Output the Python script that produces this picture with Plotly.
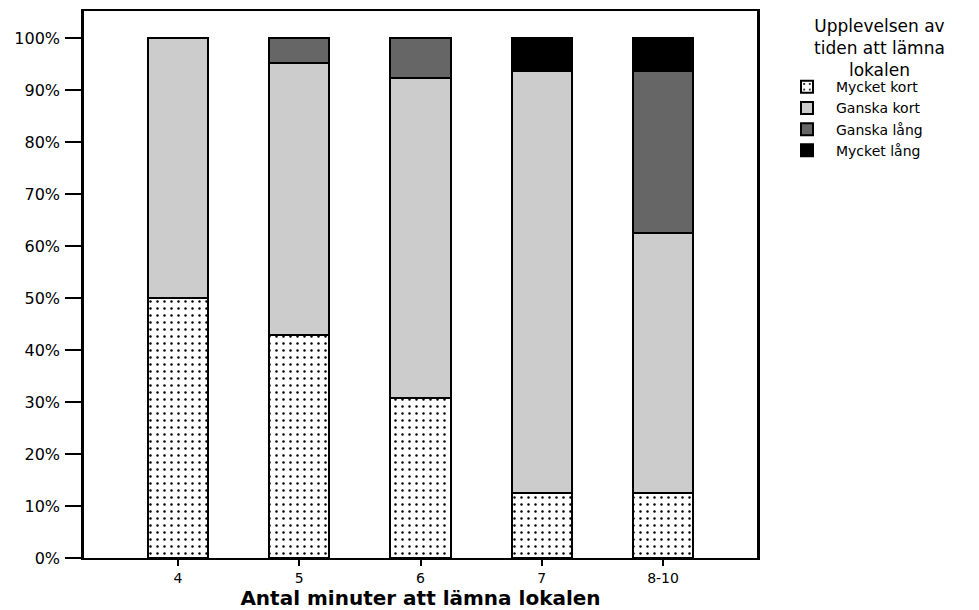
import plotly.graph_objects as go

categories = ["4", "5", "6", "7", "8-10"]
mycket_kort = [50.0, 42.86, 30.77, 12.5, 12.5]
ganska_kort = [50.0, 52.38, 61.54, 81.25, 50.0]
ganska_lang = [0.0, 4.76, 7.69, 0.0, 31.25]
mycket_lang = [0.0, 0.0, 0.0, 6.25, 6.25]
series_names = ["Mycket kort", "Ganska kort", "Ganska lång", "Mycket lång"]
y_ticks = list(range(0, 101, 10))
y_tick_labels = [f"{v}%" for v in y_ticks]

FONT = "DejaVu Sans, Liberation Sans, Arial, sans-serif"

fig = go.Figure()
fig.add_trace(go.Bar(
    x=categories, y=mycket_kort, name=series_names[0],
    marker=dict(color="white",
                pattern=dict(shape=".", fgcolor="black", bgcolor="white", size=7, solidity=0.1),
                line=dict(color="black", width=2)),
))
fig.add_trace(go.Bar(
    x=categories, y=ganska_kort, name=series_names[1],
    marker=dict(color="#cccccc", line=dict(color="black", width=2)),
))
fig.add_trace(go.Bar(
    x=categories, y=ganska_lang, name=series_names[2],
    marker=dict(color="#666666", line=dict(color="black", width=2)),
))
fig.add_trace(go.Bar(
    x=categories, y=mycket_lang, name=series_names[3],
    marker=dict(color="black", line=dict(color="black", width=2)),
))

fig.update_layout(
    template="none",
    barmode="stack",
    bargap=0.505,
    width=971, height=602,
    margin=dict(l=76, r=222, t=3, b=52, autoexpand=False),
    plot_bgcolor="white", paper_bgcolor="white",
    font=dict(family=FONT, color="black", size=14),
    showlegend=True,
    legend=dict(
        traceorder="normal",
        x=1.0312, xanchor="left", y=0.890, yanchor="top",
        font=dict(size=14, family=FONT),
        itemwidth=48,
        tracegroupgap=0,
        bgcolor="rgba(0,0,0,0)",
    ),
    annotations=[dict(
        text="Upplevelsen av<br>tiden att lämna<br>lokalen",
        xref="paper", yref="paper",
        x=1.1813, y=0.9945, xanchor="center", yanchor="top",
        showarrow=False, align="center",
        font=dict(size=17, family=FONT, color="black"),
    )],
)

fig.update_xaxes(
    type="category",
    range=[-0.775, 4.775],
    automargin=False,
    showline=True, linecolor="black", linewidth=2, mirror=True,
    ticks="outside", ticklen=6, tickwidth=2, tickcolor="black",
    tickfont=dict(size=14, family=FONT),
    showgrid=False, zeroline=False,
    title=dict(text="<b>Antal minuter att lämna lokalen</b>",
               font=dict(size=20, family=FONT), standoff=13),
)
fig.update_yaxes(
    range=[0, 105.2],
    automargin=False,
    tickvals=y_ticks, ticktext=y_tick_labels,
    showline=True, linecolor="black", linewidth=2.5, mirror=True,
    ticks="outside", ticklen=16, tickwidth=2, tickcolor="black",
    tickfont=dict(size=16, family=FONT),
    ticklabelstandoff=2,
    showgrid=False, zeroline=False,
)

fig.write_html("out.html")
